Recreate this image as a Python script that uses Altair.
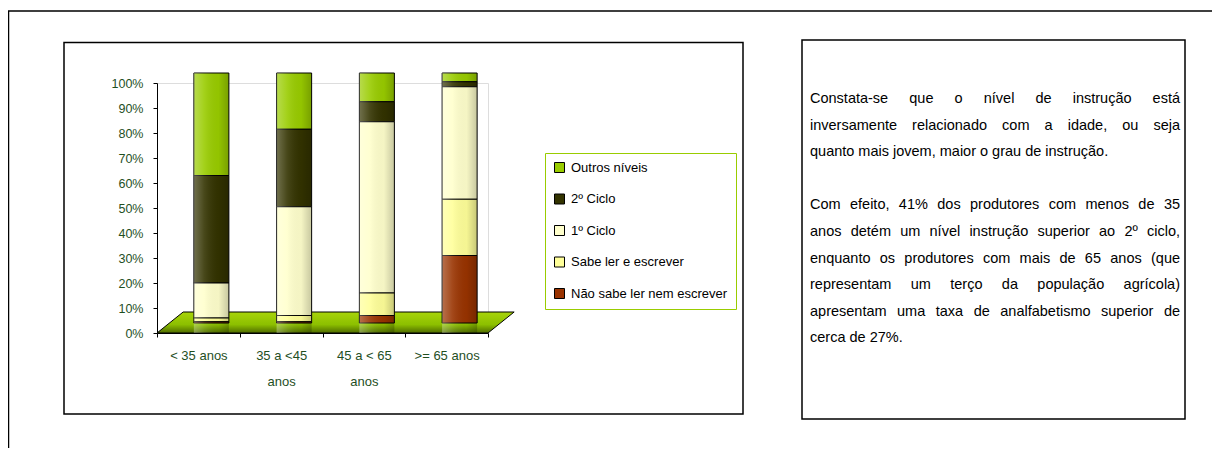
import altair as alt
import pandas as pd

# ---------------- data ----------------
categories = ["< 35 anos", "35 a <45 anos", "45 a < 65 anos", ">= 65 anos"]
category_lines = {
    "< 35 anos": ["< 35 anos"],
    "35 a <45 anos": ["35 a <45", "anos"],
    "45 a < 65 anos": ["45 a < 65", "anos"],
    ">= 65 anos": [">= 65 anos"],
}
levels = ["Outros níveis", "2º Ciclo", "1º Ciclo", "Sabe ler e escrever", "Não sabe ler nem escrever"]
level_colors = ["#99CC00", "#333300", "#FFFFCC", "#FFFF99", "#993300"]

outros = [41, 22.5, 11.5, 3.5]
ciclo2 = [43, 31, 8, 2]
ciclo1 = [14, 43.5, 68.5, 45]
sabe_ler = [1.5, 2.5, 9, 22.5]
nao_sabe = [0.5, 0.5, 3, 27]

y_ticks = [0, 10, 20, 30, 40, 50, 60, 70, 80, 90, 100]

paragraph1 = [
    "Constata-se que o nível de instrução está",
    "inversamente relacionado com a idade, ou seja",
    "quanto mais jovem, maior o grau de instrução.",
]
paragraph2 = [
    "Com efeito, 41% dos produtores com menos de 35",
    "anos detém um nível instrução superior ao 2º ciclo,",
    "enquanto os produtores com mais de 65 anos (que",
    "representam um terço da população agrícola)",
    "apresentam uma taxa de analfabetismo superior de",
    "cerca de 27%.",
]

# 3D floor (decorative): x in fraction of plot width, y in %
floor_x = [0, 0.079, 1, 1.079]
floor_lo = [0, 0, 0, 8.4]
floor_hi = [0, 8.4, 8.4, 8.4]

# ---------------- tables ----------------
series = dict(zip(levels, [outros, ciclo2, ciclo1, sabe_ler, nao_sabe]))
rows = []
for i, lvl in enumerate(levels):
    for c, v in zip(categories, series[lvl]):
        rows.append({"cat": c, "nivel": lvl, "valor": v, "ordem": len(levels) - 1 - i})
df = pd.DataFrame(rows)
floor_df = pd.DataFrame({"fx": floor_x, "lo": floor_lo, "hi": floor_hi})
one = pd.DataFrame({"k": [0]})

FONT = "Liberation Sans, Arial, sans-serif"
GREEN_TXT = "#1F4F1F"

# ---- justified text layout (Arial / Liberation Sans advance widths, 1/1000 em)
AW = {" ": 278, "a": 556, "b": 556, "c": 500, "d": 556, "e": 556, "f": 278, "g": 556,
      "h": 556, "i": 222, "j": 222, "k": 500, "l": 222, "m": 833, "n": 556, "o": 556,
      "p": 556, "q": 556, "r": 333, "s": 500, "t": 278, "u": 556, "v": 500, "w": 722,
      "x": 500, "y": 500, "z": 500, "C": 722, "A": 667, "%": 889, ",": 278, ".": 278,
      "-": 333, "(": 333, ")": 333, "º": 365, "ç": 500, "ã": 556, "é": 556, "í": 278,
      "á": 556, "ó": 556, "ê": 556}
TXT_SIZE = 14.5
TXT_LEFT, TXT_RIGHT = 810, 1180  # page px
TXT_TOP = 103                      # baseline of first line, page px
LINE_H = 26.6
ORIGIN_X, ORIGIN_Y = 157, 83       # page position of plot origin


def tw(s):
    return sum(AW.get(ch, 556) for ch in s) * TXT_SIZE / 1000.0


word_rows = []
line_no = 0
for para in (paragraph1, paragraph2):
    for j, line in enumerate(para):
        words = line.split(" ")
        y = TXT_TOP + line_no * LINE_H - ORIGIN_Y
        last = j == len(para) - 1
        if last or len(words) == 1:
            gap = tw(" ")
        else:
            gap = (TXT_RIGHT - TXT_LEFT - sum(tw(w) for w in words)) / (len(words) - 1)
        x = TXT_LEFT - ORIGIN_X
        for w in words:
            word_rows.append({"w": w, "px": x, "py": y})
            x += tw(w) + gap
        line_no += 1
    line_no += 1
words_df = pd.DataFrame(word_rows)

label_expr = " : ".join(
    f"datum.value == {c!r} ? {category_lines[c]!r}" for c in categories
) + " : datum.value"

W, H = 331, 250

x_enc = alt.X(
    "cat:N",
    sort=categories,
    scale=alt.Scale(paddingInner=0, paddingOuter=0),
    axis=alt.Axis(
        title=None, labelAngle=0, labelExpr=label_expr, labelColor=GREEN_TXT,
        labelFont=FONT, labelFontSize=13, labelLineHeight=26, labelPadding=12,
        labelBaseline="top", tickBand="extent", tickSize=4, tickColor="black",
        domainColor="black", grid=False,
    ),
)
y_scale = alt.Scale(domain=[0, 100], nice=False)
y_axis = alt.Axis(
    title=None, values=y_ticks, labelExpr="datum.value + '%'", labelColor=GREEN_TXT,
    labelFont=FONT, labelFontSize=12.5, labelPadding=10, tickSize=4, tickColor="black",
    domainColor="black", grid=False,
)

floor = alt.Chart(floor_df).mark_area(
    stroke="black", strokeWidth=1,
    fill=alt.Gradient(
        gradient="linear", x1=0, y1=0, x2=0, y2=1,
        stops=[alt.GradientStop(color="#A8D40A", offset=0),
               alt.GradientStop(color="#8CBF00", offset=0.6),
               alt.GradientStop(color="#4F6B00", offset=1)],
    ),
).encode(
    x=alt.X("fx:Q", scale=alt.Scale(domain=[0, 1], nice=False, zero=False), axis=None),
    y=alt.Y("lo:Q", scale=y_scale, axis=y_axis),
    y2="hi:Q",
)

bars = alt.Chart(df).mark_bar(
    size=35, xOffset=13, yOffset=-10, stroke="black", strokeWidth=1
).encode(
    x=x_enc,
    y=alt.Y("valor:Q", stack="zero", scale=y_scale, axis=y_axis),
    color=alt.Color(
        "nivel:N",
        scale=alt.Scale(domain=levels, range=level_colors),
        legend=alt.Legend(
            title=None, orient="none", legendX=388, legendY=70,
            strokeColor="#99CC00", padding=8, symbolType="square", symbolSize=100,
            symbolStrokeColor="black", symbolStrokeWidth=1, labelFont=FONT,
            labelFontSize=13, labelColor="black", labelOffset=5, rowPadding=16.5,
            fillColor="white", labelLimit=400,
        ),
    ),
    order=alt.Order("ordem:Q", sort="ascending"),
)

shade = alt.Chart(df).mark_bar(
    size=35, xOffset=13, yOffset=-10,
    fill=alt.Gradient(
        gradient="linear", x1=0, y1=0, x2=1, y2=0,
        stops=[alt.GradientStop(color="rgba(255,255,255,0.30)", offset=0),
               alt.GradientStop(color="rgba(255,255,255,0.10)", offset=0.3),
               alt.GradientStop(color="rgba(0,0,0,0.04)", offset=0.7),
               alt.GradientStop(color="rgba(0,0,0,0.22)", offset=1)],
    ),
).encode(
    x=x_enc,
    y=alt.Y("sum(valor):Q", stack=None, scale=y_scale, axis=y_axis),
)


def frame(x0, x1, y0, y1, w=1.5):
    return alt.Chart(one).mark_rect(fill="transparent", stroke="black", strokeWidth=w).encode(
        x=alt.value(x0), x2=alt.value(x1), y=alt.value(y0), y2=alt.value(y1)
    )


outer = frame(-148.5, 1400, -72, 700)
chart_box = frame(-93, 586, -40.5, 331)
text_box = frame(645, 1028, -43, 336)

text = alt.Chart(words_df).mark_text(
    align="left", baseline="alphabetic", fontSize=TXT_SIZE, font=FONT, color="black",
).encode(
    x=alt.X("px:Q", scale=None, axis=None),
    y=alt.Y("py:Q", scale=None, axis=None),
    text="w:N",
)

plot = alt.layer(floor, alt.layer(bars, shade)).resolve_scale(x="independent")

chart = alt.layer(
    outer, chart_box, text_box, plot, text
).resolve_scale(x="independent", y="independent").properties(
    width=W, height=H,
    autosize=alt.AutoSizeParams(type="none"),
    padding={"left": 149, "top": 75, "right": 1204 - 149 - W, "bottom": 440 - 75 - H},
).configure_view(stroke=None).configure(background="white")

chart.save("out.html", embed_options={"renderer": "svg", "actions": False})
